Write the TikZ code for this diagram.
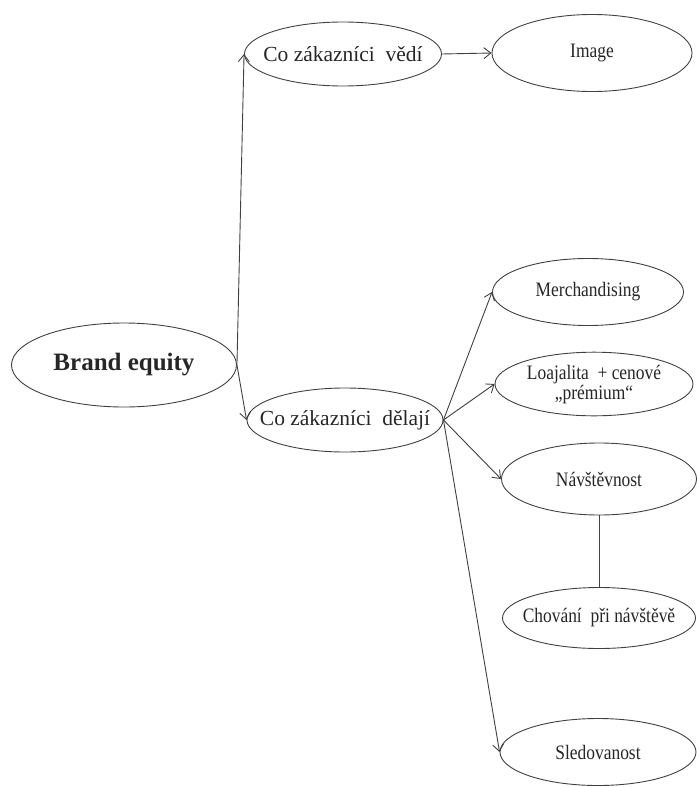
\documentclass[tikz,border=0pt]{standalone}
\usepackage{fontspec}
\setmainfont{Liberation Serif}
\usetikzlibrary{shapes.geometric,arrows.meta}
\newcommand\zb[1]{\makebox[0pt]{#1}}
\newcommand\zs[1]{\makebox[0pt]{\scalebox{0.85}[1]{#1}}}
\begin{document}
\begin{tikzpicture}[x=1pt,y=-1pt,
  ov/.style={draw=black!75,line width=0.9pt,ellipse,inner sep=0pt,text=black!85},
  big/.style={ov,font=\fontsize{25}{28}\selectfont\bfseries},
  mid/.style={ov,font=\fontsize{21.5}{24}\selectfont},
  sml/.style={ov,font=\fontsize{20.5}{25}\selectfont},
  arr/.style={draw=black!75,line width=0.9pt,-{Straight Barb[length=7pt,width=11pt,line width=0.9pt]}},
  ln/.style={draw=black!75,line width=0.9pt}]
\useasboundingbox (0,0) rectangle (696,787);
\node[big,minimum width=225pt,minimum height=84pt] (be) at (124,365) {\zb{Brand equity}};
\node[mid,minimum width=197pt,minimum height=64pt] (cv) at (343,54) {\zb{Co zákazníci\ \ vědí}};
\node[sml,minimum width=200pt,minimum height=77pt] (img) at (592,53) {\zs{Image}};
\node[mid,minimum width=196pt,minimum height=64pt] (cd) at (345,420) {\zb{Co zákazníci\ \ dělají}};
\node[sml,minimum width=191pt,minimum height=67pt] (me) at (588,292) {\zs{Merchandising}};
\node[sml,minimum width=198pt,minimum height=60pt] (lo) at (594,384) {\zs{\begin{tabular}{@{}c@{}}Loajalita\ \ + cenové\\[-5pt]„prémium“\end{tabular}}};
\node[sml,minimum width=195pt,minimum height=72pt] (na) at (599,479) {\zs{Návštěvnost}};
\node[sml,minimum width=193pt,minimum height=61pt] (ch) at (599,618) {\zs{Chování\ \ při návštěvě}};
\node[sml,minimum width=196pt,minimum height=67pt] (sl) at (598,752) {\zs{Sledovanost}};
\draw[arr] (be.east) -- (cv.west);
\draw[arr] (be.east) -- (cd.west);
\draw[arr] (cv.east) -- (img.west);
\draw[arr] (cd.east) -- (me.west);
\draw[arr] (cd.east) -- (lo.west);
\draw[arr] (cd.east) -- (na.west);
\draw[arr] (cd.east) -- (sl.west);
\draw[ln] (na.south) -- (ch.north);
\end{tikzpicture}
\end{document}
